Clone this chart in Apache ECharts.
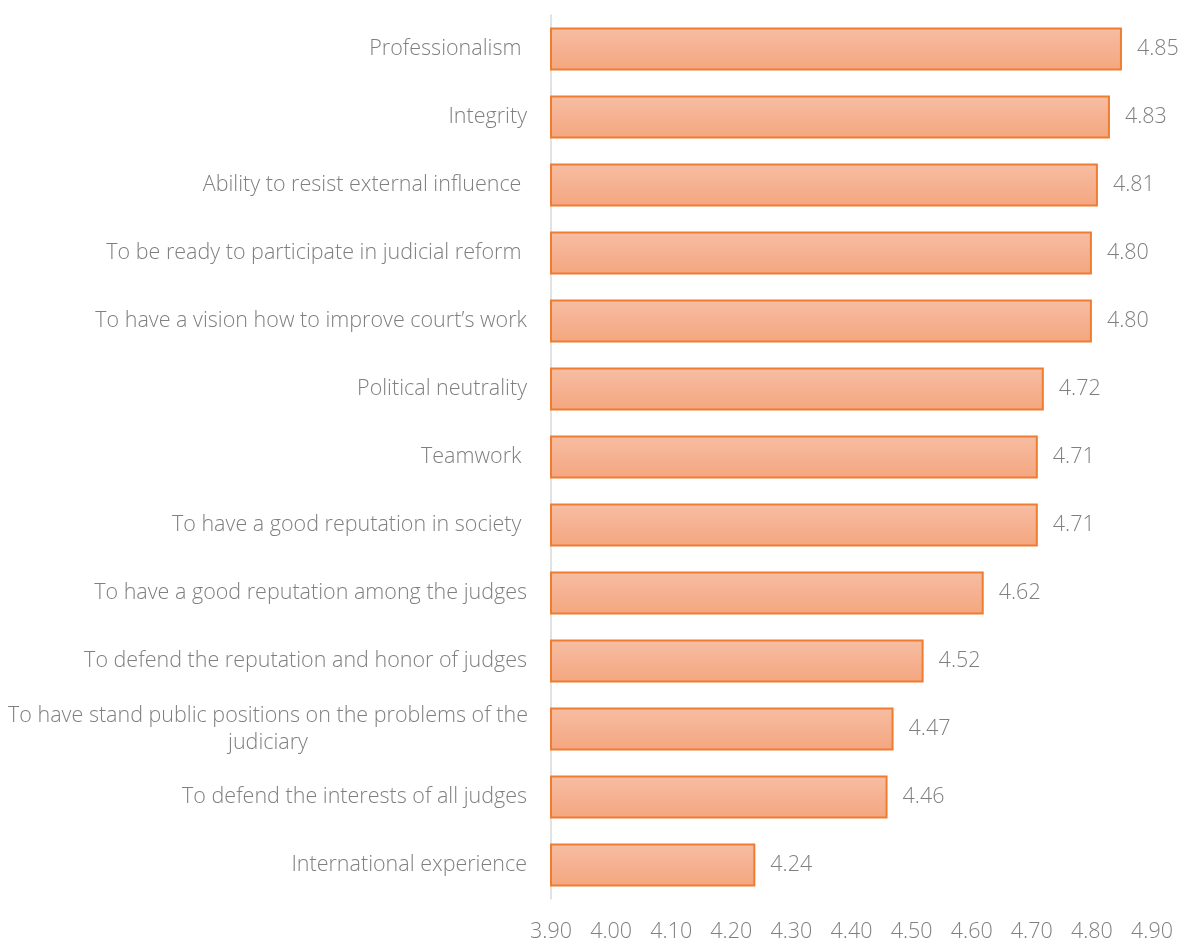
<!DOCTYPE html>
<html>
<head>
<meta charset="utf-8">
<script src="https://cdn.jsdelivr.net/npm/echarts@6/dist/echarts.min.js"></script>
<style>html,body{margin:0;padding:0;background:#fff}#c{width:1180px;height:943px}</style>
</head>
<body>
<div id="c"></div>
<script>
const categories = [
  "Professionalism ",
  "Integrity",
  "Ability to resist external influence ",
  "To be ready to participate in judicial reform ",
  "To have a vision how to improve court\u2019s work",
  "Political neutrality",
  "Teamwork ",
  "To have a good reputation in society ",
  "To have a good reputation among the judges",
  "To defend the reputation and honor of judges",
  "To have stand public positions on the problems of the\njudiciary",
  "To defend the interests of all judges",
  "International experience"
];
const values = [4.85, 4.83, 4.81, 4.80, 4.80, 4.72, 4.71, 4.71, 4.62, 4.52, 4.47, 4.46, 4.24];
const xMin = 3.9, xMax = 4.9, xStep = 0.1;

const chart = echarts.init(document.getElementById('c'), null, {renderer: 'canvas'});
const font = '"Open Sans"';
const fw = 300;
const fs = 21.5;
chart.setOption({
  animation: false,
  grid: {left: 551, right: 28, top: 15, bottom: 39, containLabel: false},
  xAxis: {
    type: 'value', min: xMin, max: xMax, interval: xStep,
    axisLine: {show: false}, axisTick: {show: false}, splitLine: {show: false},
    axisLabel: {
      color: '#7f7f7f', fontFamily: font, fontWeight: fw, fontSize: fs, margin: 22,
      formatter: v => v.toFixed(2)
    }
  },
  yAxis: {
    type: 'category', data: categories, inverse: true,
    axisLine: {show: true, lineStyle: {color: '#d9d9d9', width: 1.5}},
    axisTick: {show: false},
    axisLabel: {
      color: '#7f7f7f', fontFamily: font, fontWeight: fw, fontSize: fs, margin: 24,
      lineHeight: 27,
      formatter: function (v) {
        if (v.indexOf('\n') >= 0) {
          return v.split('\n').map(s => '{c|' + s + '}').join('\n');
        }
        return v;
      },
      rich: {c: {width: 518, align: 'center', color: '#7f7f7f', fontFamily: font, fontWeight: fw, fontSize: fs, lineHeight: 27}}
    }
  },
  series: [{
    type: 'bar', data: values, barCategoryGap: '37%',
    itemStyle: {
      color: new echarts.graphic.LinearGradient(0, 0, 0, 1, [
        {offset: 0, color: '#f7bda3'},
        {offset: 1, color: '#f4a67f'}
      ]),
      borderColor: '#ed7d31', borderWidth: 2
    },
    label: {
      show: true, position: 'right', distance: 15,
      color: '#7f7f7f', fontFamily: font, fontWeight: fw, fontSize: fs,
      formatter: p => p.value.toFixed(2)
    }
  }]
});
</script>
</body>
</html>
